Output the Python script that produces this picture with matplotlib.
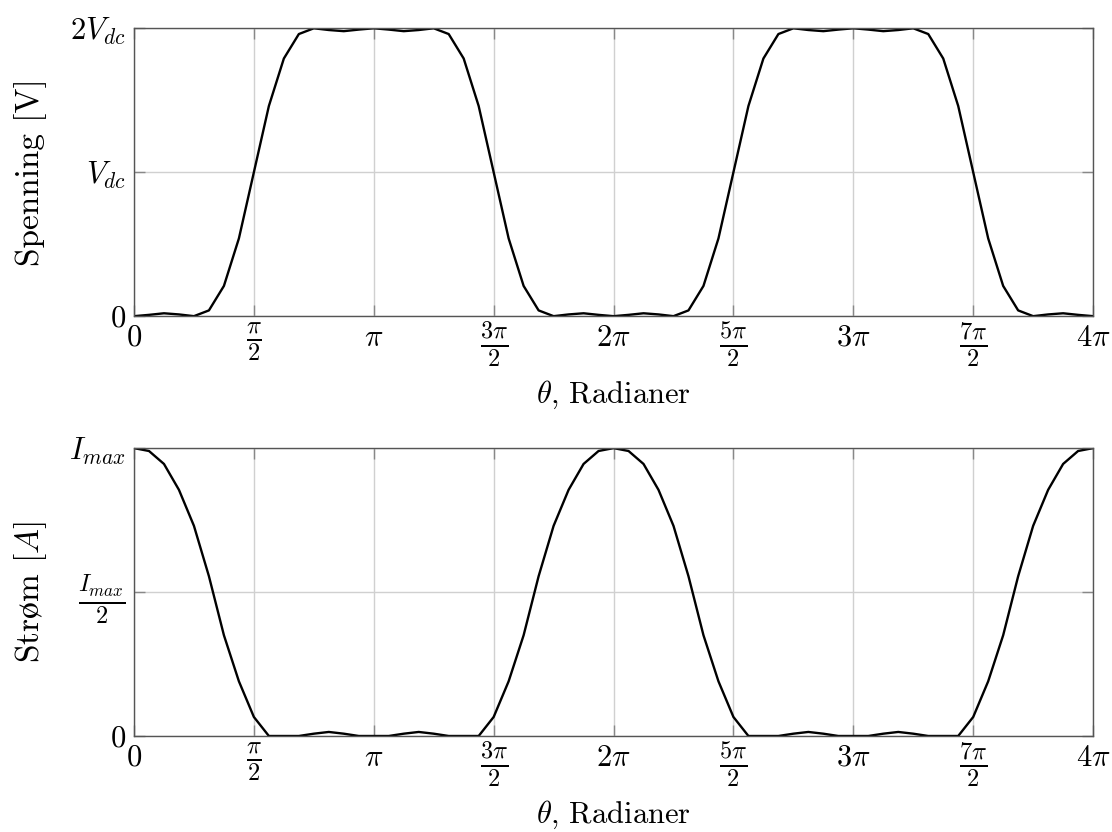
import numpy as np
import matplotlib
matplotlib.use('Agg')
import matplotlib.pyplot as plt
from matplotlib.transforms import ScaledTranslation

plt.rcParams['font.family'] = ['cmr10', 'DejaVu Serif']
plt.rcParams['mathtext.fontset'] = 'cm'
plt.rcParams['axes.formatter.use_mathtext'] = True

# sample index k, theta = k*pi/16, 0..4pi
k = np.arange(65)
theta = k * np.pi / 16

# voltage in units of Vdc
spenning = [0.0, 0.009, 0.02, 0.012, 0.0, 0.04, 0.21, 0.54, 1.0, 1.46, 1.79, 1.96, 2.0,
            1.988, 1.98, 1.991, 2.0, 1.991, 1.98, 1.988, 2.0, 1.96, 1.79, 1.46, 1.0,
            0.54, 0.21, 0.04, 0.0, 0.012, 0.02, 0.009, 0.0,
            0.009, 0.02, 0.012, 0.0, 0.04, 0.21, 0.54, 1.0, 1.46, 1.79, 1.96, 2.0,
            1.988, 1.98, 1.991, 2.0, 1.991, 1.98, 1.988, 2.0, 1.96, 1.79, 1.46, 1.0,
            0.54, 0.21, 0.04, 0.0, 0.012, 0.02, 0.009, 0.0]

# current in units of Imax
strom = [1.0, 0.99, 0.945, 0.855, 0.73, 0.555, 0.35, 0.19, 0.066, 0.0, 0.0, 0.0, 0.008,
         0.014, 0.008, 0.0, 0.0, 0.0, 0.008, 0.014, 0.008, 0.0, 0.0, 0.0, 0.066,
         0.19, 0.35, 0.555, 0.73, 0.855, 0.945, 0.99, 1.0,
         0.99, 0.945, 0.855, 0.73, 0.555, 0.35, 0.19, 0.066, 0.0, 0.0, 0.0, 0.008,
         0.014, 0.008, 0.0, 0.0, 0.0, 0.008, 0.014, 0.008, 0.0, 0.0, 0.0, 0.066,
         0.19, 0.35, 0.555, 0.73, 0.855, 0.945, 0.99, 1.0]

xticks = [i * np.pi / 2 for i in range(9)]
xticklabels = ['$0$', r'$\frac{\pi}{2}$', r'$\pi$', r'$\frac{3\pi}{2}$', r'$2\pi$',
               r'$\frac{5\pi}{2}$', r'$3\pi$', r'$\frac{7\pi}{2}$', r'$4\pi$']

fig = plt.figure(figsize=(11.12, 8.32), dpi=100)
ax1 = fig.add_axes([0.1205, 0.620, 0.8625, 0.346])
ax2 = fig.add_axes([0.1205, 0.1154, 0.8625, 0.346])


def bigger_fracs(labels, shift=0):
    # fractions come out small in mathtext, enlarge them a bit
    for t in labels:
        if 'frac' in t.get_text():
            t.set_fontsize(25)
            if shift:
                t.set_transform(t.get_transform() +
                                ScaledTranslation(0, shift / 72, fig.dpi_scale_trans))


def style(ax):
    ax.set_xlim(0, 4 * np.pi)
    ax.set_xticks(xticks)
    ax.set_xticklabels(xticklabels)
    ax.grid(True, color='#d0d0d0', linewidth=1.0)
    ax.set_axisbelow(True)
    for s in ax.spines.values():
        s.set_color('#555555')
        s.set_linewidth(1.0)
    ax.tick_params(direction='in', length=8, width=1, color='#888888',
                   top=True, right=True, labelsize=22, pad=6)
    bigger_fracs(ax.get_xticklabels(), shift=3)
    ax.set_xlabel(r'$\theta$, Radianer', fontsize=22, va='center')
    ax.xaxis.set_label_coords(0.5, -0.274)


ax1.plot(theta, spenning, color='black', linewidth=1.7)
style(ax1)
ax1.set_ylim(0, 2)
ax1.set_yticks([0, 1, 2])
ax1.set_yticklabels(['$0$', r'$V_{dc}$', r'$2V_{dc}$'])
ax1.set_ylabel('Spenning [V]', fontsize=24, va='center')

ax2.plot(theta, strom, color='black', linewidth=1.7)
style(ax2)
ax2.set_ylim(0, 1)
ax2.set_yticks([0, 0.5, 1])
ax2.set_yticklabels(['$0$', r'$\frac{I_{max}}{2}$', r'$I_{max}$'])
bigger_fracs(ax2.get_yticklabels())
ax2.set_ylabel(r'$\mathrm{Str\o m}$ [$A$]', fontsize=24, va='center')
ax1.yaxis.set_label_coords(-0.108, 0.5)
ax2.yaxis.set_label_coords(-0.108, 0.5)

fig.savefig('out.png', dpi=100)
